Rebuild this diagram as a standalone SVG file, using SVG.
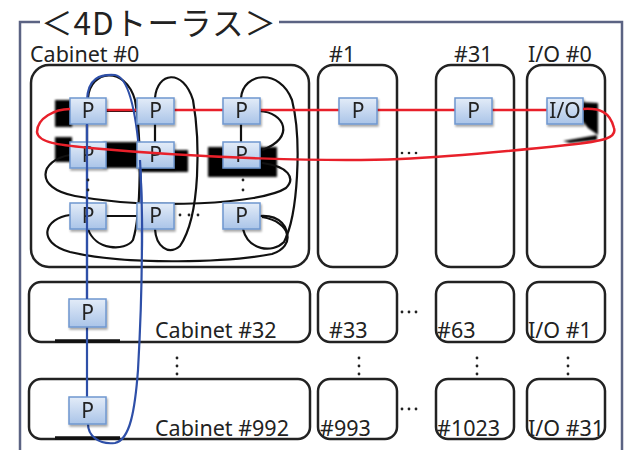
<svg xmlns="http://www.w3.org/2000/svg" width="625" height="450" viewBox="0 0 625 450">
  <defs>
    <linearGradient id="pfill" x1="0" y1="0" x2="0" y2="1">
      <stop offset="0" stop-color="#e3ecf8"/>
      <stop offset="1" stop-color="#aac4e8"/>
    </linearGradient>
    <filter id="soft" x="-20%" y="-20%" width="140%" height="140%">
      <feGaussianBlur stdDeviation="1"/>
    </filter>
    <filter id="drop" x="-20%" y="-20%" width="150%" height="150%">
      <feGaussianBlur in="SourceAlpha" stdDeviation="1.2"/>
      <feOffset dx="1" dy="1.5"/>
      <feComponentTransfer><feFuncA type="linear" slope="0.35"/></feComponentTransfer>
      <feMerge><feMergeNode/><feMergeNode in="SourceGraphic"/></feMerge>
    </filter>
  </defs>
  <style>
    .frame { fill: none; stroke: #5b6383; stroke-width: 2.5; }
    .cab { fill: none; stroke: #222; stroke-width: 2.5; }
    .lbl { font-family: "Noto Sans", "DejaVu Sans", sans-serif; font-size: 21.5px; fill: #222; }
    .title { font-family: "Noto Sans CJK JP", "Noto Sans", sans-serif; font-size: 31.5px; fill: #222; }
    .pbox { fill: url(#pfill); stroke: #6f97cf; stroke-width: 1.5; }
    .ptxt { font-family: "Noto Sans", "DejaVu Sans", sans-serif; font-size: 21px; fill: #222; text-anchor: middle; }
    .blk { fill: none; stroke: #111; stroke-width: 2.2; }
    .red { fill: none; stroke: #e8202a; stroke-width: 2.5; }
    .blue { fill: none; stroke: #2e4fa8; stroke-width: 2.2; }
    .blob { fill: #000; filter: url(#soft); }
    .dot { fill: #222; }
  </style>

  <!-- outer frame with title -->
  <g id="frame">
    <path class="frame" d="M20 450 V22 H40 M279 22 H622 V450"/>
    <text class="title" x="41" y="34.5" textLength="235" lengthAdjust="spacing">＜4Dトーラス＞</text>
  </g>

  <!-- cabinets -->
  <g id="cabinet-0">
    <rect class="cab" x="31" y="65" width="278" height="202" rx="18"/>
    <text class="lbl" x="30" y="62">Cabinet #0</text>
  </g>
  <g id="cabinet-1">
    <rect class="cab" x="318" y="65" width="79" height="202" rx="15"/>
    <text class="lbl" x="329" y="62">#1</text>
  </g>
  <g id="cabinet-31">
    <rect class="cab" x="436" y="65" width="78" height="202" rx="15"/>
    <text class="lbl" x="454" y="62">#31</text>
  </g>
  <g id="io-0">
    <rect class="cab" x="527" y="65" width="78" height="202" rx="15"/>
    <text class="lbl" x="528" y="62">I/O #0</text>
  </g>
  <g id="cabinet-32">
    <rect class="cab" x="29" y="282" width="281" height="60" rx="12"/>
    <path d="M55 341 H120" stroke="#111" stroke-width="3.5"/>
    <text class="lbl" x="155" y="338">Cabinet #32</text>
  </g>
  <g id="cabinet-33">
    <rect class="cab" x="318" y="282" width="79" height="60" rx="12"/>
    <text class="lbl" x="329" y="338">#33</text>
  </g>
  <g id="cabinet-63">
    <rect class="cab" x="436" y="282" width="78" height="60" rx="12"/>
    <text class="lbl" x="437" y="338">#63</text>
  </g>
  <g id="io-1">
    <rect class="cab" x="527" y="282" width="78" height="60" rx="12"/>
    <text class="lbl" x="528" y="338">I/O #1</text>
  </g>
  <g id="cabinet-992">
    <rect class="cab" x="29" y="379" width="281" height="60" rx="12"/>
    <path d="M55 438 H120" stroke="#111" stroke-width="3.5"/>
    <text class="lbl" x="155" y="436">Cabinet #992</text>
  </g>
  <g id="cabinet-993">
    <rect class="cab" x="318" y="379" width="79" height="60" rx="12"/>
    <text class="lbl" x="320" y="436">#993</text>
  </g>
  <g id="cabinet-1023">
    <rect class="cab" x="436" y="379" width="78" height="60" rx="12"/>
    <text class="lbl" x="437" y="436">#1023</text>
  </g>
  <g id="io-31">
    <rect class="cab" x="527" y="379" width="78" height="60" rx="12"/>
    <text class="lbl" x="528" y="436">I/O #31</text>
  </g>

  <!-- shadow blocks behind the processor rows -->
  <g id="shadows">
    <rect class="blob" x="55" y="100" width="17" height="27"/>
    <rect class="blob" x="55" y="137" width="17" height="25"/>
    <rect class="blob" x="103" y="142" width="37" height="26"/>
    <rect class="blob" x="140" y="150" width="48" height="22"/>
    <rect class="blob" x="208" y="147" width="69" height="30"/>
    <polygon class="blob" points="580,102 598,103 598,135 588,128 580,118"/>
    <polygon class="blob" points="563,141 597,135 597,140 570,143"/>
  </g>

  <!-- links -->
  <g id="connectors">
    <!-- straight links inside cabinet #0 -->
    <path class="blk" d="M106 111 H137 M87 124 V142 M155 124 V142 M241 124 V142 M106 216 H137"/>
    <!-- column wrap-arounds -->
    <path class="blk" d="M88 98 C90 70 125 65 135 100 C142 140 141 215 133 240 C125 252 95 250 88 229"/>
    <path class="blk" d="M155 98 C157 72 183 68 193 100 C200 140 201 215 180 246 C168 256 156 246 155 229"/>
    <path class="blk" d="M241 98 C243 72 280 68 292 100 C302 140 298 215 284 242 C272 254 248 250 243 229"/>
    <path class="blk" d="M259 216 C280 214 290 228 286 240"/>
    <!-- row wrap-arounds -->
    <path class="blk" d="M259 111 C285 112 296 138 262 150"/>
    <path class="blk" d="M70 155 C40 160 33 188 75 196 C150 210 262 204 286 188 C296 178 288 166 262 163"/>
    <path class="blk" d="M70 215 C45 218 35 242 70 252 C130 266 230 262 272 254 C296 246 292 222 262 217"/>

    <!-- red ring through the first row of every cabinet -->
    <path class="red" d="M106 110 H547"/>

    <!-- blue ring through one column across all cabinet rows -->
    <path class="blue" d="M87 100 V424"/>
    <path class="blue" d="M87 100 C88 78 100 74 115 75 C128 77 136 110 140 160 C143 220 142 300 138 370 C135 410 130 440 115 443 C98 445 88 435 88 424"/>
  </g>

  <!-- processor nodes -->
  <g id="p-r1c1" filter="url(#drop)"><rect class="pbox" x="70" y="98" width="36" height="26"/><text class="ptxt" x="88" y="118">P</text></g>
  <g id="p-r1c2" filter="url(#drop)"><rect class="pbox" x="137" y="98" width="37" height="26"/><text class="ptxt" x="155.5" y="118">P</text></g>
  <g id="p-r1c3" filter="url(#drop)"><rect class="pbox" x="223" y="98" width="37" height="26"/><text class="ptxt" x="241.5" y="118">P</text></g>
  <g id="p-r2c1" filter="url(#drop)"><rect class="pbox" x="70" y="142" width="36" height="26"/><text class="ptxt" x="88" y="162">P</text></g>
  <g id="p-r2c2" filter="url(#drop)"><rect class="pbox" x="137" y="142" width="37" height="26"/><text class="ptxt" x="155.5" y="162">P</text></g>
  <g id="p-r2c3" filter="url(#drop)"><rect class="pbox" x="223" y="142" width="37" height="26"/><text class="ptxt" x="241.5" y="162">P</text></g>
  <g id="p-r3c1" filter="url(#drop)"><rect class="pbox" x="70" y="203" width="36" height="26"/><text class="ptxt" x="88" y="223">P</text></g>
  <g id="p-r3c2" filter="url(#drop)"><rect class="pbox" x="137" y="203" width="37" height="26"/><text class="ptxt" x="155.5" y="223">P</text></g>
  <g id="p-r3c3" filter="url(#drop)"><rect class="pbox" x="223" y="203" width="37" height="26"/><text class="ptxt" x="241.5" y="223">P</text></g>
  <g id="p-cab1" filter="url(#drop)"><rect class="pbox" x="339" y="98" width="38" height="26"/><text class="ptxt" x="358" y="118">P</text></g>
  <g id="p-cab31" filter="url(#drop)"><rect class="pbox" x="455" y="98" width="37" height="26"/><text class="ptxt" x="473.5" y="118">P</text></g>
  <g id="io-node" filter="url(#drop)"><rect class="pbox" x="547" y="98" width="36" height="26"/><text class="ptxt" x="565" y="118">I/O</text></g>
  <g id="p-cab32" filter="url(#drop)"><rect class="pbox" x="69" y="299" width="37" height="28"/><text class="ptxt" x="87.5" y="320">P</text></g>
  <g id="p-cab992" filter="url(#drop)"><rect class="pbox" x="69" y="397" width="37" height="27"/><text class="ptxt" x="87.5" y="418">P</text></g>

  <!-- return half of the red ring, passing over the second row -->
  <path class="red" d="M583 109 C600 108 610 112 614 128 C617 138 605 141 567 145 C520 150 450 157 400 159 C330 162 200 158 90 148 C60 145 38 143 37 132 C37 118 55 109 70 109"/>

  <!-- blue line shown over the processors of cabinet #0 -->
  <path class="blue" d="M87 124 V142 M87 142 V299" />
  <path class="blue" d="M140 160 C143 220 142 240 142 250" />

  <!-- ellipsis marks -->
  <g id="ellipses">
    <circle class="dot" cx="88" cy="180" r="1.4"/><circle class="dot" cx="88" cy="190" r="1.4"/>
    <circle class="dot" cx="243" cy="180" r="1.4"/><circle class="dot" cx="243" cy="190" r="1.4"/>
    <circle class="dot" cx="180" cy="215" r="1.4"/><circle class="dot" cx="189" cy="215" r="1.4"/><circle class="dot" cx="198" cy="215" r="1.4"/>
    <circle class="dot" cx="402" cy="153" r="1.3"/><circle class="dot" cx="409" cy="153" r="1.3"/><circle class="dot" cx="416" cy="153" r="1.3"/>
    <circle class="dot" cx="402" cy="312" r="1.4"/><circle class="dot" cx="409" cy="312" r="1.4"/><circle class="dot" cx="416" cy="312" r="1.4"/>
    <circle class="dot" cx="402" cy="409" r="1.4"/><circle class="dot" cx="409" cy="409" r="1.4"/><circle class="dot" cx="416" cy="409" r="1.4"/>
    <circle class="dot" cx="177" cy="358" r="1.4"/><circle class="dot" cx="177" cy="366" r="1.4"/><circle class="dot" cx="177" cy="374" r="1.4"/>
    <circle class="dot" cx="359" cy="358" r="1.4"/><circle class="dot" cx="359" cy="366" r="1.4"/><circle class="dot" cx="359" cy="374" r="1.4"/>
    <circle class="dot" cx="477" cy="358" r="1.4"/><circle class="dot" cx="477" cy="366" r="1.4"/><circle class="dot" cx="477" cy="374" r="1.4"/>
    <circle class="dot" cx="568" cy="358" r="1.4"/><circle class="dot" cx="568" cy="366" r="1.4"/><circle class="dot" cx="568" cy="374" r="1.4"/>
  </g>
</svg>
